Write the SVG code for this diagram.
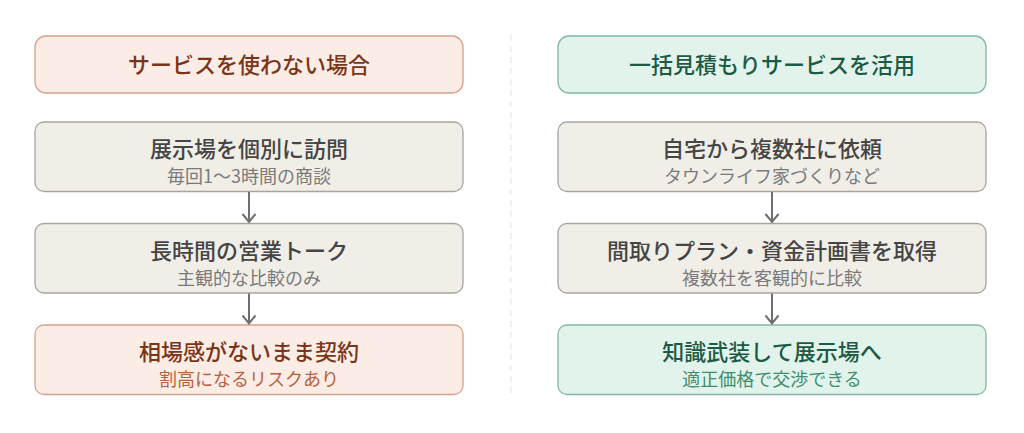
<svg xmlns="http://www.w3.org/2000/svg" width="1024" height="433" viewBox="0 0 1024 433">
<defs>
<style>
text{font-family:"Noto Sans CJK JP","Noto Sans",sans-serif;text-anchor:middle}
.t{font-size:22px;font-weight:500}
.s{font-size:18px;font-weight:400}
.warn rect{fill:#fbece6;stroke:#d9a08a;stroke-width:1.3}
.warn .t{fill:#7a3518}
.warn .s{fill:#b8613d}
.good rect{fill:#e2f3ec;stroke:#7fbaa3;stroke-width:1.3}
.good .t{fill:#1c5a45}
.good .s{fill:#3f8c70}
.step rect{fill:#f1eee8;stroke:#a9a59d;stroke-width:1.3}
.step .t{fill:#454545}
.step .s{fill:#7a7a7a}
.conn line{stroke:#6f6f6f;stroke-width:2;fill:none}
</style>
<marker id="ah" markerWidth="12" markerHeight="16" refX="10" refY="8" orient="auto" markerUnits="userSpaceOnUse" viewBox="0 0 12 16">
<path d="M2,1.5 L10,8 L2,14.5" fill="none" stroke="#6f6f6f" stroke-width="2"/>
</marker>
</defs>
<rect width="1024" height="433" fill="#ffffff"/>
<line x1="511" y1="35" x2="511" y2="398" stroke="#e6e6e6" stroke-width="1.2" stroke-dasharray="6 5"/>

<g id="left-header" class="warn">
<rect x="35" y="36" width="428" height="57" rx="11"/>
<text class="t" x="249" y="72.5">サービスを使わない場合</text>
</g>
<g id="left-step1" class="step">
<rect x="35" y="122" width="428" height="69.5" rx="9"/>
<text class="t" x="249" y="157">展示場を個別に訪問</text>
<text class="s" x="249" y="183">毎回1〜3時間の商談</text>
</g>
<g id="left-step2" class="step">
<rect x="35" y="223.5" width="428" height="69.5" rx="9"/>
<text class="t" x="249" y="258.5">長時間の営業トーク</text>
<text class="s" x="249" y="284.5">主観的な比較のみ</text>
</g>
<g id="left-result" class="warn">
<rect x="35" y="325" width="428" height="69.5" rx="9"/>
<text class="t" x="249" y="360">相場感がないまま契約</text>
<text class="s" x="249" y="386">割高になるリスクあり</text>
</g>

<g id="right-header" class="good">
<rect x="558" y="36" width="428" height="57" rx="11"/>
<text class="t" x="772" y="72.5">一括見積もりサービスを活用</text>
</g>
<g id="right-step1" class="step">
<rect x="558" y="122" width="428" height="69.5" rx="9"/>
<text class="t" x="772" y="157">自宅から複数社に依頼</text>
<text class="s" x="772" y="183">タウンライフ家づくりなど</text>
</g>
<g id="right-step2" class="step">
<rect x="558" y="223.5" width="428" height="69.5" rx="9"/>
<text class="t" x="772" y="258.5">間取りプラン・資金計画書を取得</text>
<text class="s" x="772" y="284.5">複数社を客観的に比較</text>
</g>
<g id="right-result" class="good">
<rect x="558" y="325" width="428" height="69.5" rx="9"/>
<text class="t" x="772" y="360">知識武装して展示場へ</text>
<text class="s" x="772" y="386">適正価格で交渉できる</text>
</g>

<g id="connectors" class="conn">
<line x1="249" y1="192" x2="249" y2="222" marker-end="url(#ah)"/>
<line x1="249" y1="293.5" x2="249" y2="323.5" marker-end="url(#ah)"/>
<line x1="772" y1="192" x2="772" y2="222" marker-end="url(#ah)"/>
<line x1="772" y1="293.5" x2="772" y2="323.5" marker-end="url(#ah)"/>
</g>
</svg>
